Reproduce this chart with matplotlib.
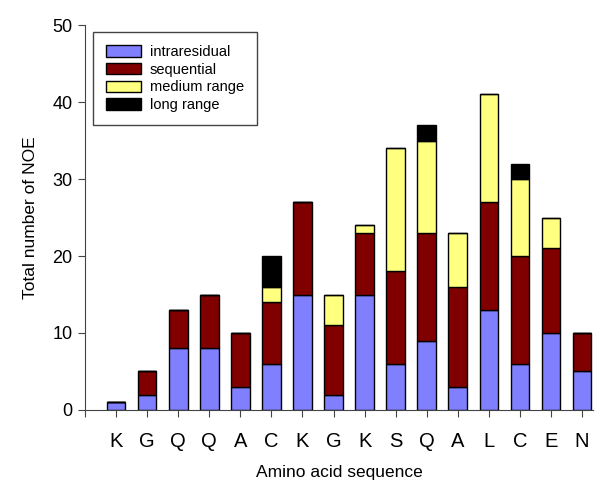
import numpy as np
import matplotlib.pyplot as plt

plt.rcParams['font.family'] = ['Liberation Sans', 'DejaVu Sans']

residues = ['K', 'G', 'Q', 'Q', 'A', 'C', 'K', 'G', 'K', 'S', 'Q', 'A', 'L', 'C', 'E', 'N']
intraresidual = [1, 2, 8, 8, 3, 6, 15, 2, 15, 6, 9, 3, 13, 6, 10, 5]
sequential = [0, 3, 5, 7, 7, 8, 12, 9, 8, 12, 14, 13, 14, 14, 11, 5]
medium_range = [0, 0, 0, 0, 0, 2, 0, 4, 1, 16, 12, 7, 14, 10, 4, 0]
long_range = [0, 0, 0, 0, 0, 4, 0, 0, 0, 0, 2, 0, 0, 2, 0, 0]

if __name__ == "__main__":

    X = np.arange(1, len(residues) + 1)
    series = [(intraresidual, '#8080ff', 'intraresidual'),
              (sequential, '#800000', 'sequential'),
              (medium_range, '#ffff80', 'medium range'),
              (long_range, '#000000', 'long range')]

    fig = plt.figure(figsize=(6.05, 4.91), dpi=100)
    ax = fig.add_axes([0.1405, 0.165, 0.8395, 0.784])

    bottom = np.zeros(len(X))
    for vals, color, label in series:
        vals = np.array(vals, dtype=float)
        ax.bar(X, vals, width=0.6, bottom=bottom, color=color,
               edgecolor='black', linewidth=1.0, label=label, zorder=2)
        bottom += vals

    ax.set_xlim(0, 16.35)
    ax.set_ylim(0, 50)
    ax.set_yticks(range(0, 51, 10))
    ax.set_xticks(np.arange(0, len(X) + 1))
    ax.set_xticklabels([''] + residues)

    for s in ['top', 'right']:
        ax.spines[s].set_visible(False)
    ax.spines['left'].set_color('#444444')
    ax.spines['bottom'].set_color('#444444')
    ax.tick_params(axis='y', direction='out', length=5, labelsize=13, pad=4, color='#444444')
    ax.tick_params(axis='x', direction='out', length=5, labelsize=14.5, pad=11, color='#444444')

    ax.set_xlabel('Amino acid sequence', fontsize=12.5, labelpad=10)
    ax.set_ylabel('Total number of NOE', fontsize=12.5, labelpad=10)

    ax.legend(loc='upper left', bbox_to_anchor=(0.016, 0.982), borderaxespad=0,
              fontsize=10.5, fancybox=False, edgecolor='#444444', framealpha=1,
              handlelength=2.4, handleheight=0.8, labelspacing=0.25,
              borderpad=0.9, handletextpad=0.6)

    plt.savefig('out.png')
